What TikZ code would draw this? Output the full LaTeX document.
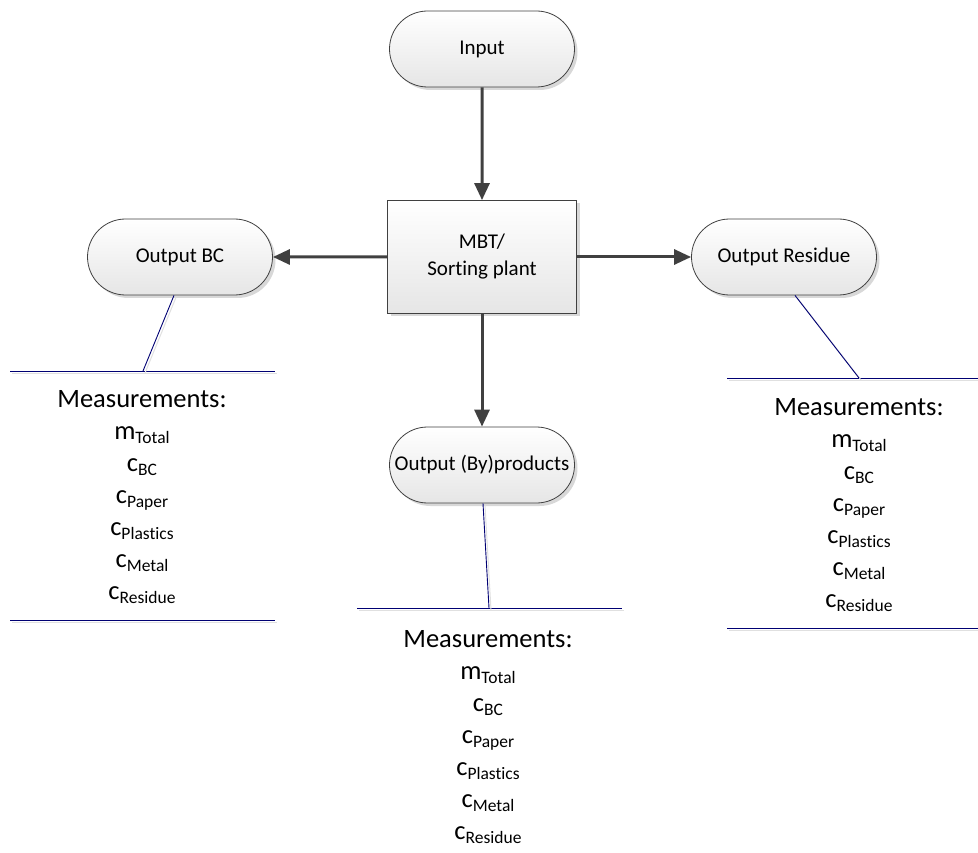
\documentclass[tikz,border=0pt]{standalone}
\usepackage{fontspec}
\setmainfont[Ligatures=NoCommon]{Carlito}
\usetikzlibrary{shapes.misc,shadows,arrows.meta}
\newcommand\sbx[1]{\raisebox{-0.3ex}{\fontsize{17.5}{17.5}\selectfont #1}}
\begin{document}
\begin{tikzpicture}[x=1pt,y=-1pt,
 term/.style={rounded rectangle, draw=black!75, line width=0.8pt, minimum width=189pt, minimum height=76pt,
   top color=white, bottom color=black!10, drop shadow={shadow xshift=3pt,shadow yshift=-3pt,fill=black!30,opacity=0.5},
   font=\fontsize{21}{25}\selectfont, inner sep=2pt},
 proc/.style={rectangle, draw=black!75, line width=0.8pt, minimum width=189pt, minimum height=113pt,
   top color=white, bottom color=black!10, drop shadow={shadow xshift=3pt,shadow yshift=-3pt,fill=black!30,opacity=0.5},
   font=\fontsize{21}{27}\selectfont, align=center},
 flow/.style={draw=black!75, line width=3pt, -{Triangle[length=17pt,width=15pt]}},
 note/.style={draw=blue!45!black, line width=0.9pt},
 noteshadow/.style={draw=black!12, line width=1pt, transform canvas={shift={(2pt,-2pt)}}},
 meas/.style={align=center, font=\fontsize{26.5}{32}\selectfont, anchor=north, inner sep=0pt}
]
\useasboundingbox (0,0) rectangle (978,853);

\node[term] (in) at (482,49) {Input};
\node[proc] (mbt) at (482,257) {MBT/\\Sorting plant};
\node[term] (bc) at (180,257) {Output BC};
\node[term] (res) at (784,257) {Output Residue};
\node[term] (by) at (482,465) {Output (By)products};

\draw[flow] (in) -- (mbt);
\draw[flow] (mbt) -- (bc);
\draw[flow] (mbt) -- (res);
\draw[flow] (mbt) -- (by);

% annotation lines
\coordinate (bcL1) at (10,371);  \coordinate (bcR1) at (275,371); \coordinate (bcK) at (143,371);
\coordinate (bcL2) at (10,620);  \coordinate (bcR2) at (275,620);
\coordinate (byL1) at (357,608); \coordinate (byR1) at (622,608); \coordinate (byK) at (489,608);
\coordinate (reL1) at (727,378); \coordinate (reR1) at (978,378); \coordinate (reK) at (859,378);
\coordinate (reL2) at (727,628); \coordinate (reR2) at (978,628);

\foreach \a/\b in {bcL1/bcR1,bcL2/bcR2,byL1/byR1,reL1/reR1,reL2/reR2}{
  \draw[noteshadow] (\a) -- (\b);
  \draw[note] (\a) -- (\b);
}
\draw[noteshadow] ([xshift=-6pt]bc.south) -- (bcK);
\draw[note] ([xshift=-6pt]bc.south) -- (bcK);
\draw[noteshadow] ([xshift=1pt]by.south) -- (byK);
\draw[note] ([xshift=1pt]by.south) -- (byK);
\draw[noteshadow] ([xshift=11pt]res.south) -- (reK);
\draw[note] ([xshift=11pt]res.south) -- (reK);

% measurement texts
\node[meas] (mbc) at (142,390) {Measurements:\\ m\sbx{Total}\\ c\sbx{BC}\\ c\sbx{Paper}\\ c\sbx{Plastics}\\ c\sbx{Metal}\\ c\sbx{Residue}};
\node[meas] (mby) at (488,630) {Measurements:\\ m\sbx{Total}\\ c\sbx{BC}\\ c\sbx{Paper}\\ c\sbx{Plastics}\\ c\sbx{Metal}\\ c\sbx{Residue}};
\node[meas] (mre) at (859,398) {Measurements:\\ m\sbx{Total}\\ c\sbx{BC}\\ c\sbx{Paper}\\ c\sbx{Plastics}\\ c\sbx{Metal}\\ c\sbx{Residue}};
\end{tikzpicture}
\end{document}
